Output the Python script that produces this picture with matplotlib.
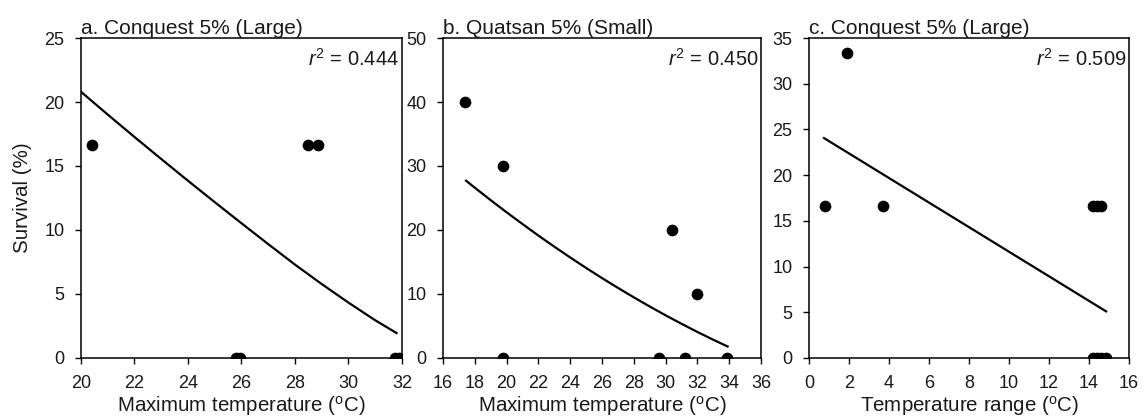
import numpy as np
import matplotlib
matplotlib.use("Agg")
import matplotlib.pyplot as plt

plt.rcParams["font.family"] = ["Liberation Sans", "DejaVu Sans"]
plt.rcParams["mathtext.fontset"] = "custom"
plt.rcParams["mathtext.rm"] = "Liberation Sans"
plt.rcParams["mathtext.it"] = "Liberation Sans:italic"

# ================= DATA =================
titles = ["a. Conquest 5% (Large)", "b. Quatsan 5% (Small)", "c. Conquest 5% (Large)"]
xlabels = ["Maximum temperature ($^{\\rm o}$C)", "Maximum temperature ($^{\\rm o}$C)",
           "Temperature range ($^{\\rm o}$C)"]
r2_values = ["0.444", "0.450", "0.509"]

a_x = [20.4, 25.8, 25.95, 28.5, 28.85, 31.75, 31.9]
a_y = [16.67, 0, 0, 16.67, 16.67, 0, 0]
a_fit_x = [20, 21, 22, 23, 24, 25, 26, 27, 28, 29, 30, 31, 31.8]
a_fit_y = [20.8, 19.02, 17.27, 15.55, 13.85, 12.18, 10.53, 8.9, 7.3, 5.78, 4.33, 2.95, 1.95]

b_x = [17.4, 19.8, 19.8, 29.6, 30.4, 31.2, 31.95, 33.85]
b_y = [40, 30, 0, 0, 20, 0, 10, 0]
b_fit_x = [17.45, 18, 19, 20, 21, 22, 23, 24, 25, 26, 27, 28, 29, 30, 31, 32, 33, 33.9]
b_fit_y = [27.7, 26.61, 24.66, 22.77, 20.93, 19.13, 17.4, 15.71, 14.07, 12.49,
           10.96, 9.48, 8.05, 6.67, 5.35, 4.07, 2.85, 1.8]

c_x = [0.8, 1.9, 3.7, 14.2, 14.4, 14.6, 14.2, 14.4, 14.6, 14.85]
c_y = [16.67, 33.33, 16.67, 16.67, 16.67, 16.67, 0, 0, 0, 0]
c_fit_x = [0.75, 14.85]
c_fit_y = [24.05, 5.1]

xlims = [(20, 32), (16, 36), (0, 16)]
ylims = [(0, 25), (0, 50), (0, 35)]
xticks = [np.arange(20, 33, 2), np.arange(16, 37, 2), np.arange(0, 17, 2)]
yticks = [np.arange(0, 26, 5), np.arange(0, 51, 10), np.arange(0, 36, 5)]

panels = [(a_x, a_y, a_fit_x, a_fit_y),
          (b_x, b_y, b_fit_x, b_fit_y),
          (c_x, c_y, c_fit_x, c_fit_y)]

# ================= LAYOUT =================
rects = [[0.0707, 0.1456, 0.2803, 0.7637],
         [0.3869, 0.1456, 0.2777, 0.7637],
         [0.7066, 0.1456, 0.2795, 0.7637]]

text_color = "#1a1a1a"

fig = plt.figure(figsize=(11.45, 4.19), dpi=100)

for i, (px, py, fx, fy) in enumerate(panels):
    ax = fig.add_axes(rects[i])

    ax.plot(fx, fy, color="black", linewidth=1.6, zorder=2)
    ax.plot(px, py, "o", color="black", markersize=7.4, zorder=3)

    ax.set_xlim(*xlims[i])
    ax.set_ylim(*ylims[i])
    ax.set_xticks(xticks[i])
    ax.set_yticks(yticks[i])

    for spine in ax.spines.values():
        spine.set_linewidth(1.1)
        spine.set_color("black")

    ax.tick_params(direction="out", length=4, width=1.0, labelsize=13,
                   labelcolor=text_color, pad=8)

    ax.set_title(titles[i], loc="left", fontsize=15, color=text_color, pad=2)
    ax.set_xlabel(xlabels[i], fontsize=14.8, color=text_color, labelpad=2)

    ax.annotate("$\\it{r}^{2}$ = " + r2_values[i], xy=(1, 1), xycoords="axes fraction",
                xytext=(-2, -20), textcoords="offset points", ha="right", va="baseline",
                fontsize=14.5, color=text_color)

    if i == 0:
        ax.set_ylabel("Survival (%)", fontsize=14.8, color=text_color, labelpad=9)

fig.savefig("out.png", dpi=100)
plt.close(fig)
